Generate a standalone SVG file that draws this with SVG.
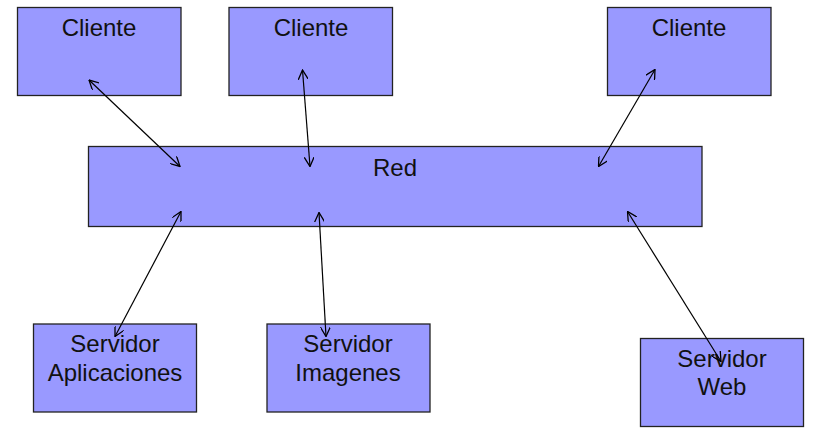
<svg xmlns="http://www.w3.org/2000/svg" width="816" height="441" viewBox="0 0 816 441">
<style>
.box{fill:#9999ff;stroke:#222;stroke-width:1.3}
.lbl{font-family:"Liberation Sans",Arial,sans-serif;font-size:24px;fill:#111;text-anchor:middle}
.conn{stroke:#000;stroke-width:1.2;fill:none;marker-start:url(#ah);marker-end:url(#ah)}
</style>
<defs>
<marker id="ah" markerUnits="userSpaceOnUse" viewBox="0 0 10 10" refX="9.5" refY="5" markerWidth="10" markerHeight="10" orient="auto-start-reverse">
<path d="M0,0 L9.5,5 L0,10" fill="none" stroke="#000" stroke-width="1.3"/>
</marker>
</defs>
<rect width="816" height="441" fill="#fff"/>
<g id="cliente1"><rect class="box" x="17.5" y="7.5" width="163.5" height="88"/><text class="lbl" x="99" y="36">Cliente</text></g>
<g id="cliente2"><rect class="box" x="229" y="7.5" width="163.5" height="88"/><text class="lbl" x="311" y="36">Cliente</text></g>
<g id="cliente3"><rect class="box" x="607.5" y="7.5" width="163.5" height="88"/><text class="lbl" x="689" y="36">Cliente</text></g>
<g id="red"><rect class="box" x="88.5" y="146.5" width="613.5" height="80"/><text class="lbl" x="395" y="176">Red</text></g>
<g id="servidor-aplicaciones"><rect class="box" x="33.5" y="324" width="163" height="88"/><text class="lbl" x="115" y="352">Servidor</text><text class="lbl" x="115" y="381">Aplicaciones</text></g>
<g id="servidor-imagenes"><rect class="box" x="267" y="324" width="163" height="88"/><text class="lbl" x="348" y="352">Servidor</text><text class="lbl" x="348" y="381">Imagenes</text></g>
<g id="servidor-web"><rect class="box" x="640.5" y="338.5" width="163" height="88"/><text class="lbl" x="722" y="366.5">Servidor</text><text class="lbl" x="722" y="395">Web</text></g>
<g id="connectors">
<line class="conn" x1="89" y1="80" x2="180" y2="166.5"/>
<line class="conn" x1="302.5" y1="70" x2="310" y2="166.5"/>
<line class="conn" x1="655" y1="69.5" x2="598.5" y2="166.5"/>
<line class="conn" x1="181" y1="211.5" x2="115" y2="336.5"/>
<line class="conn" x1="319" y1="212.5" x2="326" y2="336.5"/>
<line class="conn" x1="627.5" y1="211.5" x2="721" y2="361.5"/>
</g>
</svg>
